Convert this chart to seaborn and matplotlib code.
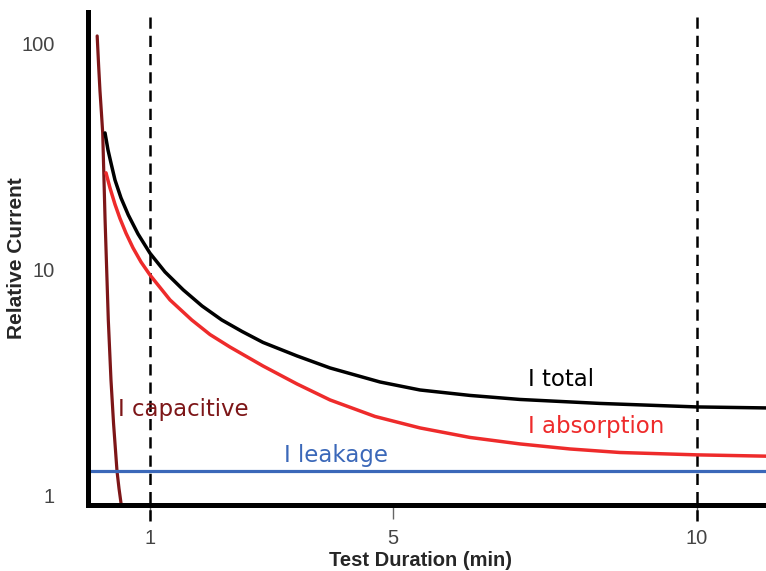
import numpy as np
import pandas as pd
import seaborn as sns
import matplotlib
matplotlib.use("Agg")
import matplotlib.pyplot as plt

# values (x in minutes, y relative current)
total_t = [0.26, 0.309, 0.358, 0.424, 0.523, 0.643, 0.803, 1.0, 1.247, 1.548, 1.856,
           2.18, 2.514, 2.859, 3.419, 3.962, 4.784, 5.442, 6.265, 7.088, 8.404, 10.0, 11.135]
total_i = [40.4, 33.96, 29.75, 25.01, 20.83, 17.51, 14.43, 11.86, 9.80, 8.16, 6.93,
           6.01, 5.345, 4.78, 4.165, 3.685, 3.194, 2.944, 2.785, 2.673, 2.567, 2.477, 2.452]

absorb_t = [0.276, 0.342, 0.424, 0.506, 0.605, 0.72, 0.852, 1.0, 1.329, 1.686, 1.987,
            2.316, 2.859, 3.419, 3.962, 4.702, 5.442, 6.265, 7.088, 7.91, 8.733, 10.0, 11.135]
absorb_i = [26.9, 23.06, 19.51, 16.90, 14.55, 12.53, 10.85, 9.50, 7.37, 6.01, 5.18,
            4.56, 3.76, 3.13, 2.66, 2.248, 2.00, 1.815, 1.699, 1.614, 1.557, 1.52, 1.50]

cap_t = [0.131, 0.155, 0.177, 0.20, 0.222, 0.26, 0.314, 0.358, 0.40, 0.457, 0.49, 0.523]
cap_i = [108.5, 80.0, 62.0, 50.0, 40.4, 17.0, 6.01, 3.26, 2.1, 1.29, 1.08, 0.93]

leak_t = [-0.02, 11.14]
leak_i = [1.29, 1.29]

vlines = [1, 10]
xticks = [1, 5, 10]
yticks = [1, 10, 100]

c_total = "#000000"
c_abs = "#ee2b2b"
c_cap = "#7d1618"
c_leak = "#3b68b9"

sns.set_style("white")
plt.rcParams['font.family'] = ['DejaVu Sans']

fig = plt.figure(figsize=(7.66, 5.71), dpi=100)
ax = fig.add_axes([88/766, 66/571, 678/766, 493/571])

sns.lineplot(x=cap_t, y=cap_i, ax=ax, color=c_cap, lw=2.3, sort=False)
sns.lineplot(x=absorb_t, y=absorb_i, ax=ax, color=c_abs, lw=2.5)
sns.lineplot(x=total_t, y=total_i, ax=ax, color=c_total, lw=2.5)
sns.lineplot(x=leak_t, y=leak_i, ax=ax, color=c_leak, lw=2.3)

for v in vlines:
    ax.axvline(v, ymin=-0.032, ymax=1, color="black", lw=1.8, ls=(0, (4.5, 2.8)),
               clip_on=False, zorder=1)

ax.set_yscale("log")
ax.set_xlim(-0.02, 11.135)
ax.set_ylim(0.912, 138.5)

ax.set_xticks(xticks)
ax.set_xticklabels([str(t) for t in xticks])
ax.set_yticks(yticks)
ax.set_yticklabels([str(t) for t in yticks])
ax.minorticks_off()

arial = ['Liberation Sans', 'DejaVu Sans']
ax.tick_params(axis="x", length=10, width=1, color="#666666", pad=7,
               labelsize=14.5, labelcolor="#444444", bottom=True)
ax.tick_params(axis="y", length=0, pad=24, labelsize=14.5, labelcolor="#444444")
for lab in ax.get_xticklabels() + ax.get_yticklabels():
    lab.set_family(arial)

ax.set_xlabel("Test Duration (min)", fontsize=14.5, fontweight="bold", family=arial)
ax.set_ylabel("Relative Current", fontsize=15, fontweight="bold", family=arial)
ax.xaxis.label.set_va("center")
ax.yaxis.label.set_va("center")
ax.xaxis.set_label_coords(0.49, -0.113)
ax.yaxis.set_label_coords(-0.105, 0.5)

for s in ["top", "right"]:
    ax.spines[s].set_visible(False)
for s in ["left", "bottom"]:
    ax.spines[s].set_linewidth(3.6)
    ax.spines[s].set_color("black")

txt = dict(fontsize=16.5, va="baseline", ha="left")
ax.text(0.473, 2.26, "I capacitive", color=c_cap, **txt)
ax.text(3.205, 1.41, "I leakage", color=c_leak, **txt)
ax.text(7.22, 3.07, "I total", color=c_total, **txt)
ax.text(7.22, 1.90, "I absorption", color=c_abs, **txt)

fig.savefig("out.png", dpi=100)
